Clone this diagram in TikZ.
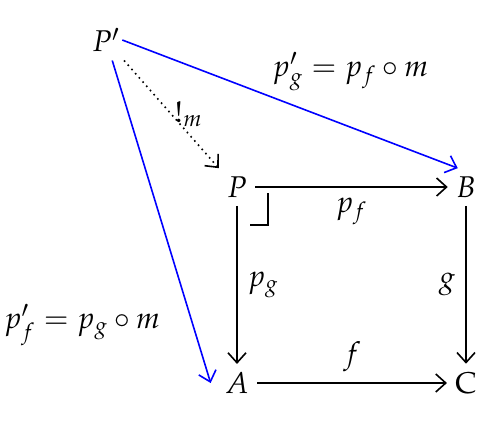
\documentclass[tikz,border=0pt]{standalone}
\usepackage{mathpazo}
\usetikzlibrary{arrows.meta}

\begin{document}
\begin{tikzpicture}[x=0.5pt,y=-0.5pt,font=\fontsize{15}{17}\selectfont,
  every node/.style={inner sep=4pt},
  map/.style={line width=0.8pt,-{Straight Barb[length=5pt,width=9pt]}},
  lift/.style={map,blue},
  unique/.style={map,dotted}]
  \useasboundingbox (0,0) rectangle (500,446);
  \node (Pp) at (106,40) {$P'$};
  \node (P) at (237,187) {$P$};
  \node (B) at (466,187) {$B$};
  \node (A) at (237,383) {$A$};
  \node (C) at (466,383) {$\mathrm{C}$};
  \draw[map] (P) -- (B) node[midway,below=1pt] {$p_f$};
  \draw[map] (P) -- (A) node[midway,right=1pt] {$p_g$};
  \draw[map] (B) -- (C) node[midway,left=1pt] {$g$};
  \draw[map] (A) -- (C) node[midway,above=1pt] {$f$};
  \draw[lift] ([xshift=-3pt]Pp.east) -- ([xshift=5pt]B.north west) node[pos=0.68,above=14pt,black] {$p'_g = p_f\circ m$};
  \draw[lift] (Pp) -- ([xshift=-3pt]A.west) node[pos=0.82,left=12pt,black] {$p'_f = p_g\circ m$};
  \draw[unique] (Pp) -- (P.north west) node[pos=0.5,right=0pt,inner sep=1pt] {$!_m$};
  \draw[line width=0.8pt] ([shift={(31,6)}]P.center) |- ([shift={(13,38)}]P.center);
\end{tikzpicture}
\end{document}
